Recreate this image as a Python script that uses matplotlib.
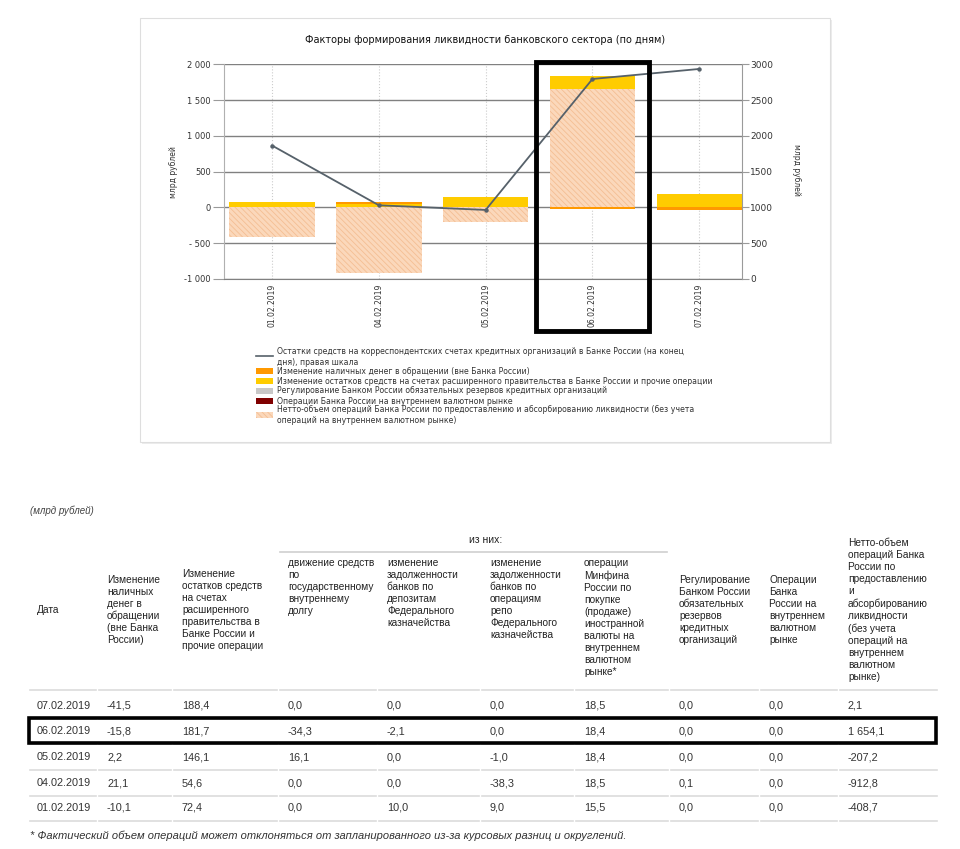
import numpy as np
import matplotlib.pyplot as plt
from matplotlib.patches import Rectangle
from matplotlib.lines import Line2D

# -------------------------------
# Data (ascending dates)
# -------------------------------
dates = ['01.02.2019', '04.02.2019', '05.02.2019', '06.02.2019', '07.02.2019']
cash = [-10.1, 21.1, 2.2, -15.8, -41.5]
gov = [72.4, 54.6, 146.1, 181.7, 188.4]
debt = [0.0, 0.0, 16.1, -34.3, 0.0]
deposits = [10.0, 0.0, 0.0, -2.1, 0.0]
repo = [9.0, -38.3, -1.0, 0.0, 0.0]
minfin = [15.5, 18.5, 18.4, 18.4, 18.5]
reserves = [0.0, 0.1, 0.0, 0.0, 0.0]
fx_ops = [0.0, 0.0, 0.0, 0.0, 0.0]
net = [-408.7, -912.8, -207.2, 1654.1, 2.1]
balance = [1865, 1030, 965, 2795, 2935]

left_ticks = [-1000, -500, 0, 500, 1000, 1500, 2000]
left_labels = ['-1 000', '- 500', '0', '500', '1 000', '1 500', '2 000']
right_ticks = [0, 500, 1000, 1500, 2000, 2500, 3000]

title = 'Факторы формирования ликвидности банковского сектора (по дням)'
legend_labels = [
    'Остатки средств на корреспондентских счетах кредитных организаций в Банке России (на конец\nдня), правая шкала',
    'Изменение наличных денег в обращении (вне Банка России)',
    'Изменение остатков средств на счетах расширенного правительства в Банке России и прочие операции',
    'Регулирование Банком России обязательных резервов кредитных организаций',
    'Операции Банка России на внутреннем валютном рынке',
    'Нетто-объем операций Банка России по предоставлению и абсорбированию ликвидности (без учета\nопераций на внутреннем валютном рынке)',
]

headers = [
    'Дата',
    'Изменение\nналичных\nденег в\nобращении\n(вне Банка\nРоссии)',
    'Изменение\nостатков средств\nна счетах\nрасширенного\nправительства в\nБанке России и\nпрочие операции',
    'движение средств\nпо\nгосударственному\nвнутреннему\nдолгу',
    'изменение\nзадолженности\nбанков по\nдепозитам\nФедерального\nказначейства',
    'изменение\nзадолженности\nбанков по\nоперациям\nрепо\nФедерального\nказначейства',
    'операции\nМинфина\nРоссии по\nпокупке\n(продаже)\nиностранной\nвалюты на\nвнутреннем\nвалютном\nрынке*',
    'Регулирование\nБанком России\nобязательных\nрезервов\nкредитных\nорганизаций',
    'Операции\nБанка\nРоссии на\nвнутреннем\nвалютном\nрынке',
    'Нетто-объем\nопераций Банка\nРоссии по\nпредоставлению\nи\nабсорбированию\nликвидности\n(без учета\nопераций на\nвнутреннем\nвалютном\nрынке)',
]
footnote = '* Фактический объем операций может отклоняться от запланированного из-за курсовых разниц и округлений.'

c_orange = '#FF9900'
c_yellow = '#FFCC00'
c_gray = '#C8C8C8'
c_darkred = '#800000'
c_peach = '#FBD8BB'
c_hatch = '#F4BE93'
c_line = '#56616a'

W, H = 960, 849


def fx(x):
    return x / W


def fy(y):
    return 1 - y / H


def ru(v):
    return f'{v:,.1f}'.replace(',', ' ').replace('.', ',')


plt.rcParams['hatch.linewidth'] = 0.6
fig = plt.figure(figsize=(9.6, 8.49), dpi=100)

# chart panel (behind everything)
fig.patches.append(Rectangle((fx(142), fy(444)), 690 / W, 424 / H, transform=fig.transFigure,
                             fc='#ececec', ec='none', zorder=-3))
fig.patches.append(Rectangle((fx(140), fy(442)), 690 / W, 424 / H, transform=fig.transFigure,
                             fc='white', ec='#dedede', lw=0.8, zorder=-2))

ax = fig.add_axes([fx(224), fy(279), (742 - 224) / W, (279 - 64.3) / H])
ax.patch.set_alpha(0)
x = np.arange(len(dates))

pos = np.zeros(len(dates))
neg = np.zeros(len(dates))
series = [(net, c_peach, True), (gov, c_yellow, False), (reserves, c_gray, False),
          (fx_ops, c_darkred, False), (cash, c_orange, False)]
for vals, col, hatched in series:
    v = np.array(vals)
    bottom = np.where(v >= 0, pos, neg)
    if hatched:
        ax.bar(x, v, 0.8, bottom=bottom, color=col, edgecolor=c_hatch, lw=0,
               hatch='\\\\\\\\\\\\', zorder=2)
    else:
        ax.bar(x, v, 0.8, bottom=bottom, color=col, lw=0, zorder=2)
    pos = np.where(v >= 0, pos + v, pos)
    neg = np.where(v < 0, neg + v, neg)

ax.set_xlim(-0.45, 4.4)
ax.set_ylim(-1000, 2000)
ax.set_yticks(left_ticks)
ax.set_yticklabels(left_labels)
ax.set_xticks(x)
ax.set_xticklabels(dates, rotation=90, va='top')
ax.tick_params(axis='y', length=8, color='#9a9a9a', labelsize=6, labelcolor='#333', pad=1.5)
ax.tick_params(axis='x', length=0, labelsize=5.5, labelcolor='#333', pad=3.5)
ax.grid(axis='y', color='#808080', lw=1.0, zorder=1)
ax.grid(axis='x', color='#cccccc', ls=':', lw=0.8, zorder=1)
ax.set_axisbelow(True)
for s in ['top', 'right']:
    ax.spines[s].set_visible(False)
ax.spines['left'].set_color('#b0b0b0')
ax.spines['bottom'].set_color('#808080')

ax2 = ax.twinx()
ax2.plot(x, balance, color=c_line, lw=1.3, marker='o', ms=2.2, zorder=5)
ax2.set_ylim(0, 3000)
ax2.set_yticks(right_ticks)
ax2.tick_params(axis='y', length=5, color='#9a9a9a', labelsize=6.5, labelcolor='#333', pad=1)
for s in ['top', 'left', 'bottom']:
    ax2.spines[s].set_visible(False)
ax2.spines['right'].set_color('#9a9a9a')

fig.text(fx(485), fy(40), title, ha='center', va='center', fontsize=7, color='#111')
fig.text(fx(173), fy(172), 'млрд рублей', rotation=90, ha='center', va='center',
         fontsize=5.5, color='#333')
fig.text(fx(797), fy(170), 'млрд рублей', rotation=270, ha='center', va='center',
         fontsize=5.5, color='#333')

# highlight box on chart
fig.patches.append(Rectangle((fx(536), fy(331)), 113 / W, 269 / H, transform=fig.transFigure,
                             fill=False, ec='black', lw=3.5, zorder=10))

# legend
leg_y = [352, 371, 381, 391, 401, 410]
sw_y = [356, 371, 381, 391, 401, 415]
for i, lab in enumerate(legend_labels):
    two = '\n' in lab
    yy = leg_y[i] - 5 if two else leg_y[i]
    fig.text(fx(277), fy(yy), lab, ha='left', va='top' if two else 'center',
             fontsize=5.6, color='#333', linespacing=1.25)
fig.lines.append(Line2D([fx(256), fx(273)], [fy(sw_y[0]), fy(sw_y[0])], transform=fig.transFigure,
                        color=c_line, lw=1.2))
for yy, col in zip(sw_y[1:5], [c_orange, c_yellow, c_gray, c_darkred]):
    fig.patches.append(Rectangle((fx(256), fy(yy + 3)), 17 / W, 6 / H, transform=fig.transFigure,
                                 fc=col, lw=0))
fig.patches.append(Rectangle((fx(256), fy(sw_y[5] + 3)), 17 / W, 6 / H, transform=fig.transFigure,
                             fc=c_peach, ec=c_hatch, lw=0, hatch='\\\\\\\\\\\\'))

# -------------------------------
# Table
# -------------------------------
tfont = ['Liberation Sans', 'DejaVu Sans']
col_x = [37, 107, 182, 288, 387, 490, 584, 679, 769, 848]
seg_x = [30, 99, 174, 280, 379, 482, 576, 671, 761, 840, 940]

fig.text(fx(30), fy(511), '(млрд рублей)', fontsize=7, style='italic', color='#444',
         family=tfont, va='center')
fig.text(fx(486), fy(540), 'из них:', fontsize=7.5, color='#222', family=tfont,
         ha='center', va='center')
fig.lines.append(Line2D([fx(280), fx(667)], [fy(552), fy(552)], transform=fig.transFigure,
                        color='#cfcfcf', lw=1.2))
for i, h in enumerate(headers):
    if 3 <= i <= 6:
        fig.text(fx(col_x[i]), fy(558), h, fontsize=7.3, color='#222', family=tfont,
                 ha='left', va='top', linespacing=1.25)
    else:
        fig.text(fx(col_x[i]), fy(610), h, fontsize=7.3, color='#222', family=tfont,
                 ha='left', va='center', linespacing=1.25)

table_cols = [cash, gov, debt, deposits, repo, minfin, reserves, fx_ops, net]
row_y = [706, 731, 757, 783, 808]
line_y = [690, 718.5, 744, 770, 795.5, 821]
for yl in line_y:
    for j in range(len(seg_x) - 1):
        fig.lines.append(Line2D([fx(seg_x[j]), fx(seg_x[j + 1] - 3)], [fy(yl), fy(yl)],
                                transform=fig.transFigure, color='#dcdcdc', lw=1.2))
order = list(range(len(dates)))[::-1]
for r, k in enumerate(order):
    fig.text(fx(col_x[0]), fy(row_y[r]), dates[k], fontsize=7.8, color='#333', family=tfont,
             va='center')
    for j, colvals in enumerate(table_cols):
        fig.text(fx(col_x[j + 1]), fy(row_y[r]), ru(colvals[k]), fontsize=7.8, color='#333',
                 family=tfont, va='center')

fig.patches.append(Rectangle((fx(29), fy(743)), 907 / W, 25 / H, transform=fig.transFigure,
                             fill=False, ec='black', lw=2.6, zorder=10))

fig.text(fx(30), fy(836), footnote, fontsize=8, style='italic', color='#333', family=tfont,
         va='center')

fig.savefig('out.png', dpi=100)
